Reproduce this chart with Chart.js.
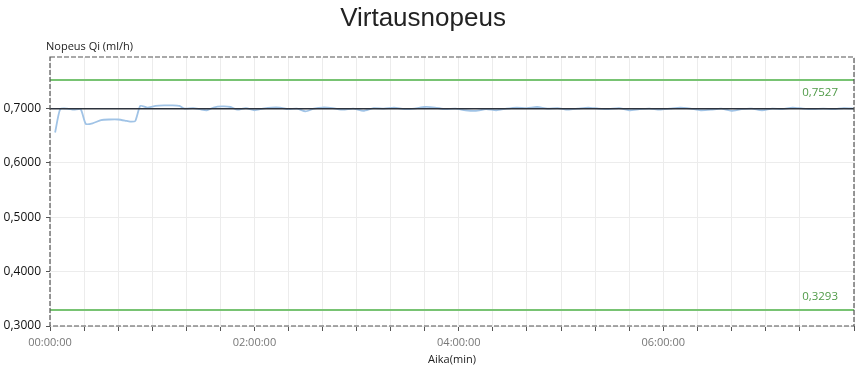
<!DOCTYPE html>
<html>
<head>
<meta charset="utf-8">
<script src="https://cdn.jsdelivr.net/npm/chart.js@4.4.0/dist/chart.umd.min.js"></script>
<style>
    body { margin: 0; background: #fff; }
    #caixa { width: 859px; height: 369px; }
</style>
</head>
<body>
<div id="caixa"><canvas id="myChart"></canvas></div>
<script>
// tempo em minutos desde 00:00:00
var tempos = [3, 6, 10, 14, 18, 21, 25, 30, 35, 40, 44, 47, 50, 53, 57, 62, 67, 72, 76, 79,
    84, 88, 92, 96, 101, 106, 110, 115, 120, 125, 130, 135, 140, 145, 150, 155, 160, 166, 172, 178,
    184, 190, 196, 202, 208, 214, 220, 226, 232, 238, 244, 250, 256, 262, 268, 274, 280, 286, 292, 298,
    304, 310, 316, 322, 328, 334, 340, 346, 352, 358, 364, 370, 376, 382, 388, 394, 400, 406, 412, 418,
    424, 430, 436, 442, 448, 454, 460, 466, 472];

var nopeus = [0.656, 0.699, 0.700, 0.698, 0.699, 0.672, 0.673, 0.679, 0.680, 0.680, 0.678, 0.676, 0.677, 0.705, 0.702, 0.705, 0.706, 0.706, 0.705, 0.700,
    0.701, 0.699, 0.697, 0.702, 0.704, 0.703, 0.698, 0.701, 0.697, 0.700, 0.702, 0.702, 0.699, 0.700, 0.695, 0.700, 0.702, 0.701, 0.698, 0.700,
    0.696, 0.701, 0.700, 0.702, 0.699, 0.700, 0.703, 0.702, 0.699, 0.700, 0.697, 0.696, 0.699, 0.697, 0.700, 0.702, 0.701, 0.703, 0.700, 0.701,
    0.698, 0.700, 0.702, 0.700, 0.699, 0.701, 0.697, 0.699, 0.700, 0.698, 0.700, 0.702, 0.700, 0.697, 0.698, 0.700, 0.696, 0.699, 0.700, 0.697,
    0.700, 0.699, 0.702, 0.700, 0.699, 0.700, 0.699, 0.701, 0.700];

var tavoite = 0.7000
var ylaraja = 0.7527
var alaraja = 0.3293

var aikaMin = 0
var aikaMax = 472
var yMin = 0.3
var yMax = 0.795

var yTicks = [0.3, 0.4, 0.5, 0.6, 0.7]

function pontos(xs, ys) {
    var lista = []
    for (var i = 0; i < xs.length; i++) {
        lista.push({ x: xs[i], y: ys[i] })
    }
    return lista
}

function linhaHorizontal(valor) {
    return [{ x: aikaMin, y: valor }, { x: aikaMax, y: valor }]
}

function virgula(v) {
    return v.toFixed(4).replace('.', ',')
}

// textos extras: titulo, titulo do eixo y, rotulos verdes, moldura tracejada
const textosPlugin = {
    id: 'textos',
    afterDraw(chart) {
        const ctx = chart.ctx
        const area = chart.chartArea
        const y = chart.scales.y
        ctx.save()

        ctx.strokeStyle = '#555'
        ctx.lineWidth = 1.2
        ctx.setLineDash([5, 2])
        ctx.strokeRect(area.left, area.top, area.right - area.left, area.bottom - area.top)
        ctx.setLineDash([])

        ctx.fillStyle = '#222'
        ctx.font = '26px "Liberation Sans", Arial, sans-serif'
        ctx.textAlign = 'center'
        ctx.textBaseline = 'middle'
        ctx.fillText('Virtausnopeus', 423, 19)

        ctx.font = '11px "Open Sans", sans-serif'
        ctx.textAlign = 'left'
        ctx.fillStyle = '#222'
        ctx.fillText('Nopeus Qi (ml/h)', 46, 47)

        ctx.fillStyle = '#4f9a47'
        ctx.font = '11.5px "Open Sans", sans-serif'
        ctx.textAlign = 'right'
        ctx.fillText(virgula(ylaraja), 838, y.getPixelForValue(ylaraja) + 13)
        ctx.fillText(virgula(alaraja), 838, y.getPixelForValue(alaraja) - 13)
        ctx.restore()
    }
}

function plotarGrafico() {
    const data = {
        datasets: [
            {
                label: 'Yläraja',
                data: linhaHorizontal(ylaraja),
                borderColor: 'rgb(120, 195, 115)',
                borderWidth: 2,
                pointRadius: 0
            },
            {
                label: 'Alaraja',
                data: linhaHorizontal(alaraja),
                borderColor: 'rgb(120, 195, 115)',
                borderWidth: 2,
                pointRadius: 0
            },
            {
                label: 'Tavoite',
                data: linhaHorizontal(tavoite),
                borderColor: 'rgb(45, 50, 60)',
                borderWidth: 1.5,
                pointRadius: 0,
                order: 0
            },
            {
                label: 'Nopeus Qi',
                data: pontos(tempos, nopeus),
                borderColor: 'rgb(160, 195, 230)',
                borderWidth: 1.8,
                pointRadius: 0,
                tension: 0.2,
                order: 1
            }
        ]
    }

    const config = {
        type: 'line',
        data: data,
        plugins: [textosPlugin],
        options: {
            responsive: true,
            maintainAspectRatio: false,
            animation: false,
            layout: {
                padding: { top: 57, right: 4, left: 0, bottom: 0 }
            },
            plugins: {
                legend: { display: false },
                tooltip: { enabled: false }
            },
            scales: {
                x: {
                    type: 'linear',
                    min: aikaMin,
                    max: aikaMax,
                    afterFit: function (scale) { scale.height = 43 },
                    ticks: {
                        stepSize: 20,
                        autoSkip: false,
                        maxRotation: 0,
                        padding: 5,
                        color: '#777',
                        font: { family: '"Open Sans", sans-serif', size: 11 },
                        callback: function (v) {
                            if (v % 120 != 0) return ''
                            var h = v / 60
                            return (h < 10 ? '0' : '') + h + ':00:00'
                        }
                    },
                    grid: {
                        color: '#ececec',
                        tickColor: '#555',
                        tickLength: 5
                    },
                    border: { display: false },
                    title: {
                        display: true,
                        text: 'Aika(min)',
                        color: '#222',
                        font: { family: '"Open Sans", sans-serif', size: 11 },
                        padding: { top: 0, bottom: 3 }
                    }
                },
                y: {
                    min: yMin,
                    max: yMax,
                    afterFit: function (scale) { scale.width = 50 },
                    afterBuildTicks: function (scale) {
                        scale.ticks = yTicks.map(function (v) { return { value: v } })
                    },
                    ticks: {
                        padding: 5,
                        color: '#111',
                        font: { family: '"Open Sans", sans-serif', size: 12 },
                        callback: function (v) { return virgula(v) }
                    },
                    grid: {
                        color: '#ececec',
                        tickColor: '#555',
                        tickLength: 4
                    },
                    border: { display: false }
                }
            }
        }
    }

    const myChart = new Chart(document.getElementById('myChart'), config)
}

plotarGrafico()
</script>
</body>
</html>
